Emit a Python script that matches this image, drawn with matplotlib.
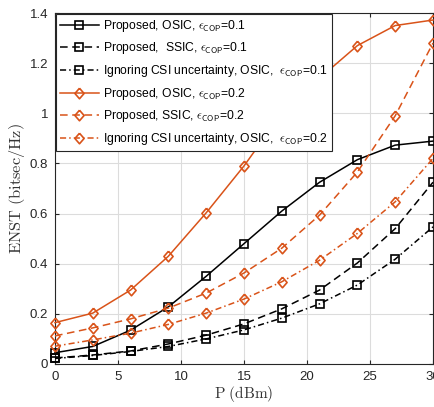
import matplotlib
matplotlib.use("Agg")
import matplotlib.pyplot as plt
from matplotlib.ticker import FuncFormatter

plt.rcParams['font.family'] = ['Liberation Sans', 'DejaVu Sans']
plt.rcParams['mathtext.fontset'] = 'cm'

P = [0, 3, 6, 9, 12, 15, 18, 21, 24, 27, 30]

osic_01 = [0.045, 0.07, 0.135, 0.228, 0.35, 0.48, 0.61, 0.725, 0.815, 0.873, 0.889]
ssic_01 = [0.024, 0.036, 0.052, 0.08, 0.115, 0.16, 0.22, 0.295, 0.403, 0.54, 0.725]
ign_01 = [0.022, 0.034, 0.05, 0.07, 0.1, 0.136, 0.183, 0.24, 0.315, 0.418, 0.547]
osic_02 = [0.165, 0.203, 0.295, 0.43, 0.603, 0.79, 1.0, 1.14, 1.27, 1.35, 1.372]
ssic_02 = [0.112, 0.144, 0.18, 0.223, 0.283, 0.363, 0.462, 0.594, 0.766, 0.99, 1.28]
ign_02 = [0.071, 0.096, 0.123, 0.158, 0.203, 0.259, 0.328, 0.414, 0.521, 0.647, 0.82]

labels = [
    r'Proposed, OSIC, $\epsilon_{\mathsf{COP}}$=0.1',
    r'Proposed,  SSIC, $\epsilon_{\mathsf{COP}}$=0.1',
    r'Ignoring CSI uncertainty, OSIC,  $\epsilon_{\mathsf{COP}}$=0.1',
    r'Proposed, OSIC, $\epsilon_{\mathsf{COP}}$=0.2',
    r'Proposed, SSIC, $\epsilon_{\mathsf{COP}}$=0.2',
    r'Ignoring CSI uncertainty, OSIC,  $\epsilon_{\mathsf{COP}}$=0.2',
]

xticks = [0, 5, 10, 15, 20, 25, 30]
yticks = [0, 0.2, 0.4, 0.6, 0.8, 1.0, 1.2, 1.4]

orange = '#D95319'
black = '#000000'

diamond = [(0, 1), (0.87, 0), (0, -1), (-0.87, 0), (0, 1)]

fig = plt.figure(figsize=(4.35, 4.07), dpi=100)
ax = fig.add_axes([55/435, 43/407, 378/435, 351/407])

series = [osic_01, ssic_01, ign_01, osic_02, ssic_02, ign_02]
colors = [black, black, black, orange, orange, orange]
styles = ['-', (0, (5, 3)), (0, (4, 2, 1, 2)), '-', (0, (5, 3)), (0, (4, 2, 1, 2))]
markers = ['s', 's', 's', diamond, diamond, diamond]
msizes = [5.8, 5.8, 5.8, 7.6, 7.6, 7.6]

for ys, c, ls, m, ms, lab in zip(series, colors, styles, markers, msizes, labels):
    ax.plot(P, ys, color=c, linestyle=ls, marker=m, markersize=ms,
            markerfacecolor='none', markeredgecolor=c, markeredgewidth=1.2,
            linewidth=1.1, label=lab, clip_on=False, zorder=3)

ax.set_xlim(0, 30)
ax.set_ylim(0, 1.4)
ax.set_xticks(xticks)
ax.set_yticks(yticks)
ax.yaxis.set_major_formatter(FuncFormatter(lambda v, p: ('%g' % round(v, 2))))
ax.grid(True, color='#dcdcdc', linewidth=0.8)
ax.set_axisbelow(True)
ax.tick_params(direction='in', labelsize=9.5, colors='#262626', length=3,
               top=True, right=True, pad=5)
for s in ax.spines.values():
    s.set_color('#262626')
    s.set_linewidth(0.8)

ax.set_xlabel(r'$\mathrm{P\ (dBm)}$', fontsize=11, color='#333333', labelpad=1)
ax.set_ylabel(r'$\mathrm{ENST\ (bitsec/Hz)}$', fontsize=11.8, color='#333333', labelpad=2)

leg = ax.legend(loc='upper left', fontsize=8.7, frameon=True, fancybox=False,
                edgecolor='#262626', framealpha=1, borderaxespad=0.05,
                handlelength=3.2, labelspacing=0.55, borderpad=0.35,
                handletextpad=0.4)
leg.get_frame().set_linewidth(0.8)
leg.set_zorder(5)

fig.savefig('out.png', dpi=100)
